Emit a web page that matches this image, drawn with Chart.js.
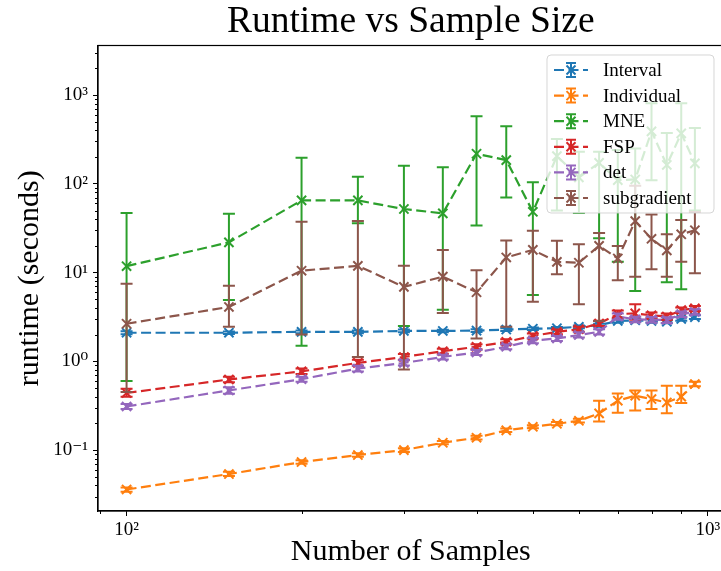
<!DOCTYPE html>
<html>
<head>
<meta charset="utf-8">
<script src="https://cdn.jsdelivr.net/npm/chart.js@4/dist/chart.umd.min.js"></script>
<style>
  html, body { margin: 0; padding: 0; background: #fff; overflow: hidden; }
  #wrap { width: 732px; height: 571px; }
</style>
</head>
<body>
<div id="wrap"><canvas id="chart" width="732" height="571"></canvas></div>
<script>
// number of samples (x axis)
const samples = [100, 150, 200, 250, 300, 350, 400, 450, 500, 550, 600, 650, 700, 750, 800, 850, 900, 950];

// runtime in seconds: mean, lower and upper end of the error bar
const intervalMean = [2.10, 2.10, 2.15, 2.15, 2.20, 2.20, 2.22, 2.28, 2.33, 2.36, 2.45, 2.55, 2.85, 2.90, 2.85, 2.80, 3.00, 3.15];
const intervalLow  = [2.02, 2.03, 2.07, 2.07, 2.12, 2.13, 2.14, 2.20, 2.25, 2.28, 2.36, 2.45, 2.72, 2.78, 2.72, 2.68, 2.86, 3.00];
const intervalHigh = [2.18, 2.17, 2.23, 2.23, 2.28, 2.27, 2.30, 2.36, 2.41, 2.44, 2.54, 2.65, 2.98, 3.02, 2.98, 2.92, 3.14, 3.30];

const individualMean = [0.036, 0.0537, 0.0733, 0.088, 0.100, 0.121, 0.138, 0.167, 0.183, 0.198, 0.214, 0.259, 0.360, 0.410, 0.376, 0.344, 0.400, 0.555];
const individualLow  = [0.034, 0.051, 0.070, 0.084, 0.095, 0.116, 0.132, 0.160, 0.176, 0.190, 0.204, 0.210, 0.264, 0.280, 0.290, 0.260, 0.340, 0.525];
const individualHigh = [0.038, 0.057, 0.077, 0.092, 0.105, 0.127, 0.145, 0.175, 0.191, 0.207, 0.225, 0.360, 0.435, 0.470, 0.470, 0.530, 0.530, 0.590];

const mneMean = [11.8, 21.9, 65, 65, 52, 46.5, 218, 185, 48.4, 205, 118, 172, 110, 112, 390, 163, 370, 170];
const mneLow  = [0.6, 4.9, 1.5, 36, 2.5, 3.8, 34, 70, 5.6, 50, 47, 24.3, 13.2, 6.2, 110, 7.8, 6.5, 50];
const mneHigh = [47, 46, 196, 120, 160, 154, 575, 444, 104, 320, 230, 230, 240, 250, 810, 373, 810, 426];

const fspMean = [0.44, 0.625, 0.77, 0.96, 1.12, 1.30, 1.46, 1.66, 1.93, 2.15, 2.30, 2.67, 3.40, 3.47, 3.30, 3.20, 3.78, 3.95];
const fspLow  = [0.40, 0.58, 0.72, 0.89, 1.04, 1.22, 1.37, 1.56, 1.81, 2.02, 2.16, 2.50, 3.10, 2.95, 3.05, 2.95, 3.50, 3.70];
const fspHigh = [0.49, 0.67, 0.83, 1.04, 1.21, 1.39, 1.56, 1.77, 2.06, 2.29, 2.45, 2.86, 3.75, 4.40, 3.55, 3.45, 4.05, 4.20];

const detMean = [0.31, 0.47, 0.63, 0.83, 0.96, 1.12, 1.26, 1.46, 1.71, 1.81, 1.98, 2.15, 3.20, 2.97, 2.95, 2.92, 3.40, 3.60];
const detLow  = [0.29, 0.43, 0.59, 0.77, 0.90, 1.05, 1.18, 1.37, 1.60, 1.70, 1.85, 2.01, 2.95, 2.76, 2.74, 2.70, 3.15, 3.35];
const detHigh = [0.33, 0.51, 0.67, 0.89, 1.03, 1.19, 1.34, 1.55, 1.82, 1.93, 2.12, 2.30, 3.45, 3.18, 3.16, 3.14, 3.65, 3.85];

const subgradMean = [2.65, 4.1, 10.5, 11.9, 6.9, 9.0, 6.0, 14.8, 18.0, 13.2, 12.9, 20.0, 14.4, 38.0, 24.0, 17.8, 27.0, 30.0];
const subgradLow  = [0.45, 2.45, 2.0, 1.12, 0.81, 3.5, 1.81, 2.45, 4.7, 9.6, 4.4, 2.85, 8.2, 9.0, 10.9, 9.0, 13.2, 9.8];
const subgradHigh = [7.5, 7.1, 37.4, 38.0, 11.9, 17.9, 10.6, 23.0, 29.5, 22.8, 20.8, 28.0, 19.9, 95.0, 45.0, 27.0, 39.0, 48.0];

const seriesNames = ['Interval', 'Individual', 'MNE', 'FSP', 'det', 'subgradient'];
const seriesColors = ['#1f77b4', '#ff7f0e', '#2ca02c', '#d62728', '#9467bd', '#8c564b'];

// tick values for the two log axes
const xTickValues = [90, 100, 200, 300, 400, 500, 600, 700, 800, 900, 1000];
const yTickValues = [0.03, 0.04, 0.05, 0.06, 0.07, 0.08, 0.09, 0.1, 0.2, 0.3, 0.4, 0.5, 0.6, 0.7, 0.8, 0.9,
  1, 2, 3, 4, 5, 6, 7, 8, 9, 10, 20, 30, 40, 50, 60, 70, 80, 90,
  100, 200, 300, 400, 500, 600, 700, 800, 900, 1000, 2000, 3000];

const SERIF = "'Liberation Serif', 'DejaVu Serif', serif";
const CAP = 6;

const supDigits = { '-': '\u207B', '0': '\u2070', '1': '\u00B9', '2': '\u00B2', '3': '\u00B3' };
function powLabel(v) {
  const e = Math.log10(v);
  if (Math.abs(e - Math.round(e)) > 1e-9) return '';
  return '10' + String(Math.round(e)).split('').map(c => supDigits[c]).join('');
}
const isPow10 = v => powLabel(v) !== '';

function makeSeries(i, mean, low, high) {
  return {
    label: seriesNames[i],
    data: samples.map((s, k) => ({ x: s, y: mean[k] })),
    errLow: low,
    errHigh: high,
    borderColor: seriesColors[i],
    backgroundColor: seriesColors[i],
    borderWidth: 2.2,
    borderDash: [10, 4.5],
    pointStyle: 'crossRot',
    pointRadius: 6.5,
    pointBorderWidth: 2,
    tension: 0,
    order: 6 - i
  };
}

// error bars are drawn under each series' own line
const errorBars = {
  id: 'errorBars',
  beforeDatasetDraw(chart, args) {
    const ds = chart.data.datasets[args.index];
    if (!ds.errLow) return;
    const { ctx, chartArea: a, scales: { x, y } } = chart;
    ctx.save();
    ctx.beginPath();
    ctx.rect(a.left, a.top, a.right - a.left, a.bottom - a.top);
    ctx.clip();
    ctx.strokeStyle = ds.borderColor;
    ctx.lineWidth = 2;
    ctx.setLineDash([]);
    ds.data.forEach((p, k) => {
      const px = x.getPixelForValue(p.x);
      const y1 = y.getPixelForValue(ds.errLow[k]);
      const y2 = y.getPixelForValue(ds.errHigh[k]);
      ctx.beginPath();
      ctx.moveTo(px, y1); ctx.lineTo(px, y2);
      ctx.moveTo(px - CAP, y1); ctx.lineTo(px + CAP, y1);
      ctx.moveTo(px - CAP, y2); ctx.lineTo(px + CAP, y2);
      ctx.stroke();
    });
    ctx.restore();
  }
};

// box frame and short minor ticks
const frame = {
  id: 'frame',
  beforeDatasetsDraw(chart) {
    const { ctx, chartArea: a, scales: { x, y } } = chart;
    ctx.save();
    ctx.strokeStyle = '#000';
    ctx.lineWidth = 1;
    ctx.beginPath();
    x.ticks.forEach(t => {
      if (isPow10(t.value)) return;
      const px = Math.round(x.getPixelForValue(t.value)) + 0.5;
      ctx.moveTo(px, a.bottom); ctx.lineTo(px, a.bottom + 3);
    });
    y.ticks.forEach(t => {
      if (isPow10(t.value)) return;
      const py = Math.round(y.getPixelForValue(t.value)) + 0.5;
      ctx.moveTo(a.left, py); ctx.lineTo(a.left - 3, py);
    });
    ctx.stroke();
    ctx.lineWidth = 1.2;
    ctx.strokeRect(a.left, a.top, a.right - a.left, a.bottom - a.top);
    ctx.restore();
  }
};

// matplotlib-like legend box in the upper right corner
const boxLegend = {
  id: 'boxLegend',
  afterDatasetsDraw(chart) {
    const { ctx, chartArea: a } = chart;
    const w = 167, h = 158, r = 4;
    const left = a.right - 9.5 - w, top = a.top + 9.5;
    ctx.save();
    ctx.beginPath();
    ctx.moveTo(left + r, top);
    ctx.arcTo(left + w, top, left + w, top + h, r);
    ctx.arcTo(left + w, top + h, left, top + h, r);
    ctx.arcTo(left, top + h, left, top, r);
    ctx.arcTo(left, top, left + w, top, r);
    ctx.closePath();
    ctx.fillStyle = 'rgba(255,255,255,0.8)';
    ctx.fill();
    ctx.strokeStyle = 'rgba(204,204,204,0.8)';
    ctx.lineWidth = 1;
    ctx.stroke();

    ctx.font = '19px ' + SERIF;
    ctx.textBaseline = 'middle';
    ctx.textAlign = 'left';
    chart.data.datasets.forEach((ds, i) => {
      const cy = top + 15 + i * 25.6;
      const mx = left + 24;
      ctx.strokeStyle = ds.borderColor;
      ctx.lineWidth = 2.2;
      ctx.setLineDash([10, 4.5]);
      ctx.beginPath();
      ctx.moveTo(left + 7, cy); ctx.lineTo(left + 41, cy);
      ctx.stroke();
      ctx.setLineDash([]);
      ctx.lineWidth = 2;
      ctx.beginPath();
      ctx.moveTo(mx, cy - 7); ctx.lineTo(mx, cy + 7);
      ctx.moveTo(mx - 5, cy - 7); ctx.lineTo(mx + 5, cy - 7);
      ctx.moveTo(mx - 5, cy + 7); ctx.lineTo(mx + 5, cy + 7);
      ctx.moveTo(mx - 4.5, cy - 4.5); ctx.lineTo(mx + 4.5, cy + 4.5);
      ctx.moveTo(mx + 4.5, cy - 4.5); ctx.lineTo(mx - 4.5, cy + 4.5);
      ctx.stroke();
      ctx.fillStyle = '#000';
      ctx.fillText(ds.label, left + 56, cy + 1);
    });
    ctx.restore();
  }
};

const datasets = [
  makeSeries(0, intervalMean, intervalLow, intervalHigh),
  makeSeries(1, individualMean, individualLow, individualHigh),
  makeSeries(2, mneMean, mneLow, mneHigh),
  makeSeries(3, fspMean, fspLow, fspHigh),
  makeSeries(4, detMean, detLow, detHigh),
  makeSeries(5, subgradMean, subgradLow, subgradHigh)
];

new Chart(document.getElementById('chart'), {
  type: 'line',
  data: { datasets },
  plugins: [errorBars, frame, boxLegend],
  options: {
    responsive: false,
    animation: false,
    devicePixelRatio: 1,
    events: [],
    layout: { padding: { left: 0, right: 2.3, top: 0, bottom: 0 } },
    plugins: {
      legend: { display: false },
      tooltip: { enabled: false },
      title: {
        display: true,
        fullSize: false,
        text: 'Runtime vs Sample Size',
        color: '#000',
        font: { family: SERIF, size: 37.5, weight: 'normal', lineHeight: 1.2 },
        padding: { top: 0, bottom: 0.5 }
      }
    },
    scales: {
      x: {
        type: 'logarithmic',
        min: 89.3,
        max: 1064,
        afterBuildTicks: s => { s.ticks = xTickValues.map(v => ({ value: v, major: isPow10(v) })); },
        afterFit: s => { s.height = 60; },
        ticks: {
          autoSkip: false,
          maxRotation: 0,
          padding: 3,
          color: '#000',
          font: { family: SERIF, size: 19 },
          callback: v => powLabel(v)
        },
        grid: {
          drawOnChartArea: false,
          tickLength: 5,
          tickColor: c => (c.tick && isPow10(c.tick.value)) ? '#000' : 'rgba(0,0,0,0)'
        },
        border: { color: '#000', width: 1.2 },
        title: {
          display: true,
          text: 'Number of Samples',
          color: '#000',
          font: { family: SERIF, size: 30, lineHeight: 1.2 },
          padding: { top: 0, bottom: 0.5 }
        }
      },
      y: {
        type: 'logarithmic',
        min: 0.0206,
        max: 3615,
        afterBuildTicks: s => { s.ticks = yTickValues.map(v => ({ value: v, major: isPow10(v) })); },
        afterFit: s => { s.width = 98; },
        ticks: {
          autoSkip: false,
          padding: 5,
          color: '#000',
          font: { family: SERIF, size: 19 },
          callback: v => powLabel(v)
        },
        grid: {
          drawOnChartArea: false,
          tickLength: 5,
          tickColor: c => (c.tick && isPow10(c.tick.value)) ? '#000' : 'rgba(0,0,0,0)'
        },
        border: { color: '#000', width: 1.2 },
        title: {
          display: true,
          text: 'runtime (seconds)',
          color: '#000',
          font: { family: SERIF, size: 30, lineHeight: 1.2 },
          padding: { top: 12, bottom: 0 }
        }
      }
    }
  }
});
</script>
</body>
</html>
